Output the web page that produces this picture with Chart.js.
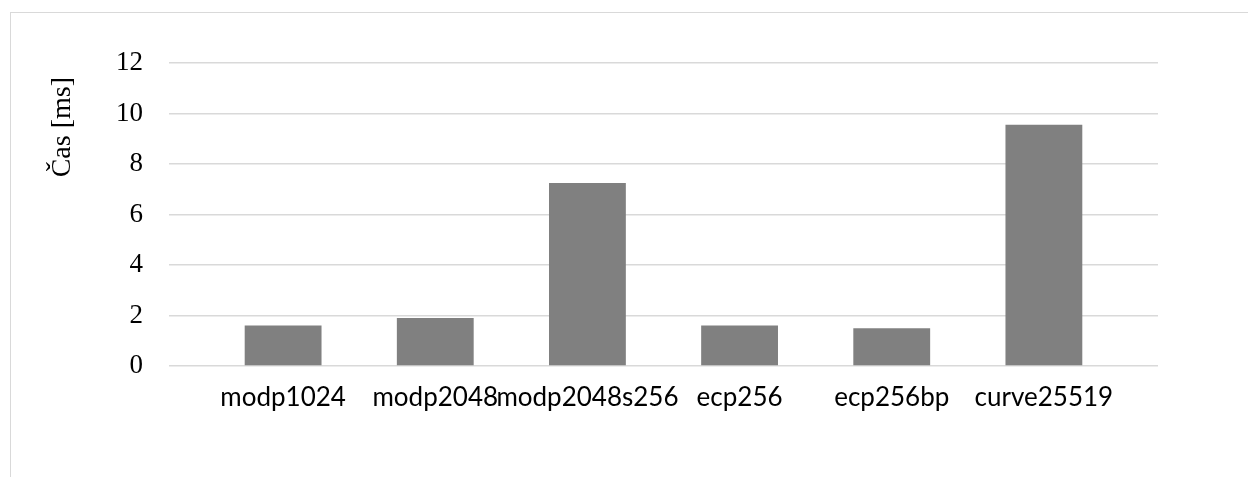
<!DOCTYPE html>
<html>
<head>
<meta charset="utf-8">
<script src="https://cdn.jsdelivr.net/npm/chart.js@4"></script>
<style>
  html, body { margin: 0; padding: 0; background: #fff; }
  #wrap { position: relative; width: 1248px; height: 477px; overflow: hidden; }
  #frame { position: absolute; left: 10px; top: 12px; width: 1400px; height: 600px; border: 1px solid #d9d9d9; box-sizing: border-box; }
  #cv { position: absolute; left: 0; top: 0; }
</style>
</head>
<body>
<div id="wrap">
  <div id="frame"></div>
  <canvas id="cv" width="1248" height="477"></canvas>
</div>
<script>
const categories = ["modp1024", "modp2048", "modp2048s256", "ecp256", "ecp256bp", "curve25519"];
const timesMs = [1.6, 1.9, 7.25, 1.6, 1.5, 9.55];
const yTicks = [0, 2, 4, 6, 8, 10, 12];
const yTitle = "Čas [ms]";

const points = categories.map((c, i) => ({ x: i, y: timesMs[i] }));

new Chart(document.getElementById('cv'), {
  type: 'bar',
  data: {
    datasets: [{
      data: points,
      backgroundColor: '#808080',
      borderWidth: 0,
      categoryPercentage: 1,
      barPercentage: 0.505
    }]
  },
  options: {
    responsive: false,
    animation: false,
    events: [],
    layout: { padding: { top: 63, right: 90, bottom: 0, left: 0 } },
    plugins: { legend: { display: false }, tooltip: { enabled: false } },
    scales: {
      x: {
        type: 'linear',
        min: -0.75,
        max: 5.75,
        offset: false,
        grid: { display: false, offset: false },
        border: { display: false },
        afterBuildTicks: (s) => { s.ticks = categories.map((c, i) => ({ value: i })); },
        ticks: {
          autoSkip: false,
          maxRotation: 0,
          padding: 8,
          color: '#000',
          font: { family: 'Lato', size: 26 },
          callback: (v) => categories[v]
        },
        afterFit: (s) => { s.height = 111; }
      },
      y: {
        min: 0,
        max: 12,
        afterBuildTicks: (s) => { s.ticks = yTicks.map(v => ({ value: v })); },
        grid: { color: '#d9d9d9', lineWidth: 1.5, drawTicks: false },
        border: { display: false },
        ticks: {
          padding: 26,
          color: '#000',
          font: { family: 'Liberation Serif', size: 27 }
        },
        title: {
          display: true,
          text: yTitle + '  ',
          align: 'end',
          color: '#000',
          font: { family: 'Liberation Serif', size: 28 },
          padding: { top: 46, bottom: 0 }
        },
        afterFit: (s) => { s.width = 169; }
      }
    }
  }
});
</script>
</body>
</html>
